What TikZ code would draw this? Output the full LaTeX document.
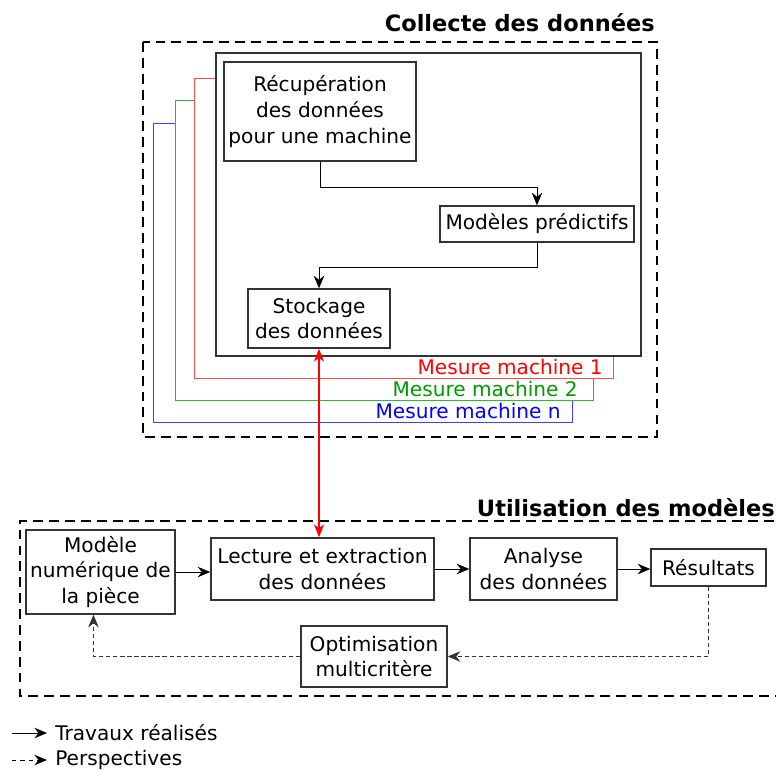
\documentclass[tikz,border=0pt]{standalone}
\usepackage{fontspec}
\setmainfont{DejaVu Sans}
\usetikzlibrary{arrows.meta, positioning, calc}

\begin{document}
\begin{tikzpicture}[
    x=0.025cm, y=-0.025cm, % one unit = one pixel of the sketch
    font=\fontsize{14.3}{18.4}\selectfont,
    box/.style={draw=black!80, line width=1pt, align=center, inner sep=0pt},
    frame/.style={draw=black, line width=2pt, dash pattern=on 7pt off 4.3pt},
    flow/.style={-{Stealth[length=9pt, width=7.5pt, inset=3pt]}, black, line width=0.7pt},
    plan/.style={flow, densely dashed, black!80},
    title/.style={font=\fontsize{16}{19}\selectfont\bfseries, anchor=base east, inner sep=0pt},
    mesure/.style={anchor=east, inner sep=0pt}
]

\useasboundingbox (0,0) rectangle (776,771);

% Collecte des donnees
\draw[frame] (143,42) rectangle (657,437);
\node[title] (collecte) at (655,31) {Collecte des données};

% machine frames
\draw[blue!75, line width=0.7pt] (175,123) -- (153,123) -- (153,422) -- (572,422) -- (572,400);
\draw[green!65!black!80, line width=0.7pt] (194,100) -- (175,100) -- (175,400) -- (593,400) -- (593,378);
\draw[red!70, line width=0.7pt] (216,78) -- (194,78) -- (194,378) -- (613,378) -- (613,356);
\node[box, fill=white, minimum width=10.625cm, minimum height=7.575cm] (machine) at (428.5,204.5) {};

\node[mesure, red] (mes1) at (603,367) {Mesure machine 1};
\node[mesure, green!60!black] (mes2) at (578,389) {Mesure machine 2};
\node[mesure, blue] (mesn) at (561,411) {Mesure machine n};

\node[box, minimum width=4.8cm, minimum height=2.475cm] (recup) at (320,111.5) {Récupération\\des données\\pour une machine};
\node[box, minimum width=4.85cm, minimum height=0.9cm] (modeles) at (537,224) {Modèles prédictifs};
\node[box, minimum width=3.55cm, minimum height=1.475cm] (stockage) at (319,318.5) {Stockage\\des données};

\draw[flow] (recup.south) -- ++(0,26) -| (modeles.north);
\draw[flow] (modeles.south) -- ++(0,25) -| (stockage.north);

% Utilisation des modeles
\draw[frame] (790,521) -- (20,521) -- (20,696) -- (790,696);
\node[title] (utilisation) at (775,516) {Utilisation des modèles};

\node[box, minimum width=3.725cm, minimum height=2.1cm] (modnum) at (100.5,572) {Modèle\\numérique de\\la pièce};
\node[box, minimum width=5.575cm, minimum height=1.55cm] (lecture) at (322.5,569) {Lecture et extraction\\des données};
\node[box, minimum width=3.675cm, minimum height=1.55cm] (analyse) at (543.5,569) {Analyse\\des données};
\node[box, minimum width=2.875cm, minimum height=0.925cm] (resultats) at (708.5,567.5) {Résultats};
\node[box, minimum width=3.65cm, minimum height=1.525cm] (optim) at (374,656.5) {Optimisation\\multicritère};

\draw[flow] (modnum.east) -- (modnum.east -| lecture.west);
\draw[flow] (lecture.east) -- (analyse.west);
\draw[flow] (analyse.east) -- (analyse.east -| resultats.west);
\draw[plan] (resultats.south) |- (optim.east);
\draw[plan] (optim.west) -| ([xshift=-5]modnum.south);

% link between the two parts
\draw[{Stealth[length=9pt, width=7pt, inset=2.5pt]}-{Stealth[length=9pt, width=7pt, inset=2.5pt]}, red, line width=1.6pt]
    (stockage.south) -- (stockage.south |- lecture.north);

% legend
\node[anchor=west, inner sep=0pt] (leg1) at (55,733) {Travaux réalisés};
\node[anchor=west, inner sep=0pt] (leg2) at (55,760) {Perspectives};
\draw[flow] (12,733) -- (47,733);
\draw[flow, dashed] (12,760) -- (47,760);

\end{tikzpicture}
\end{document}
